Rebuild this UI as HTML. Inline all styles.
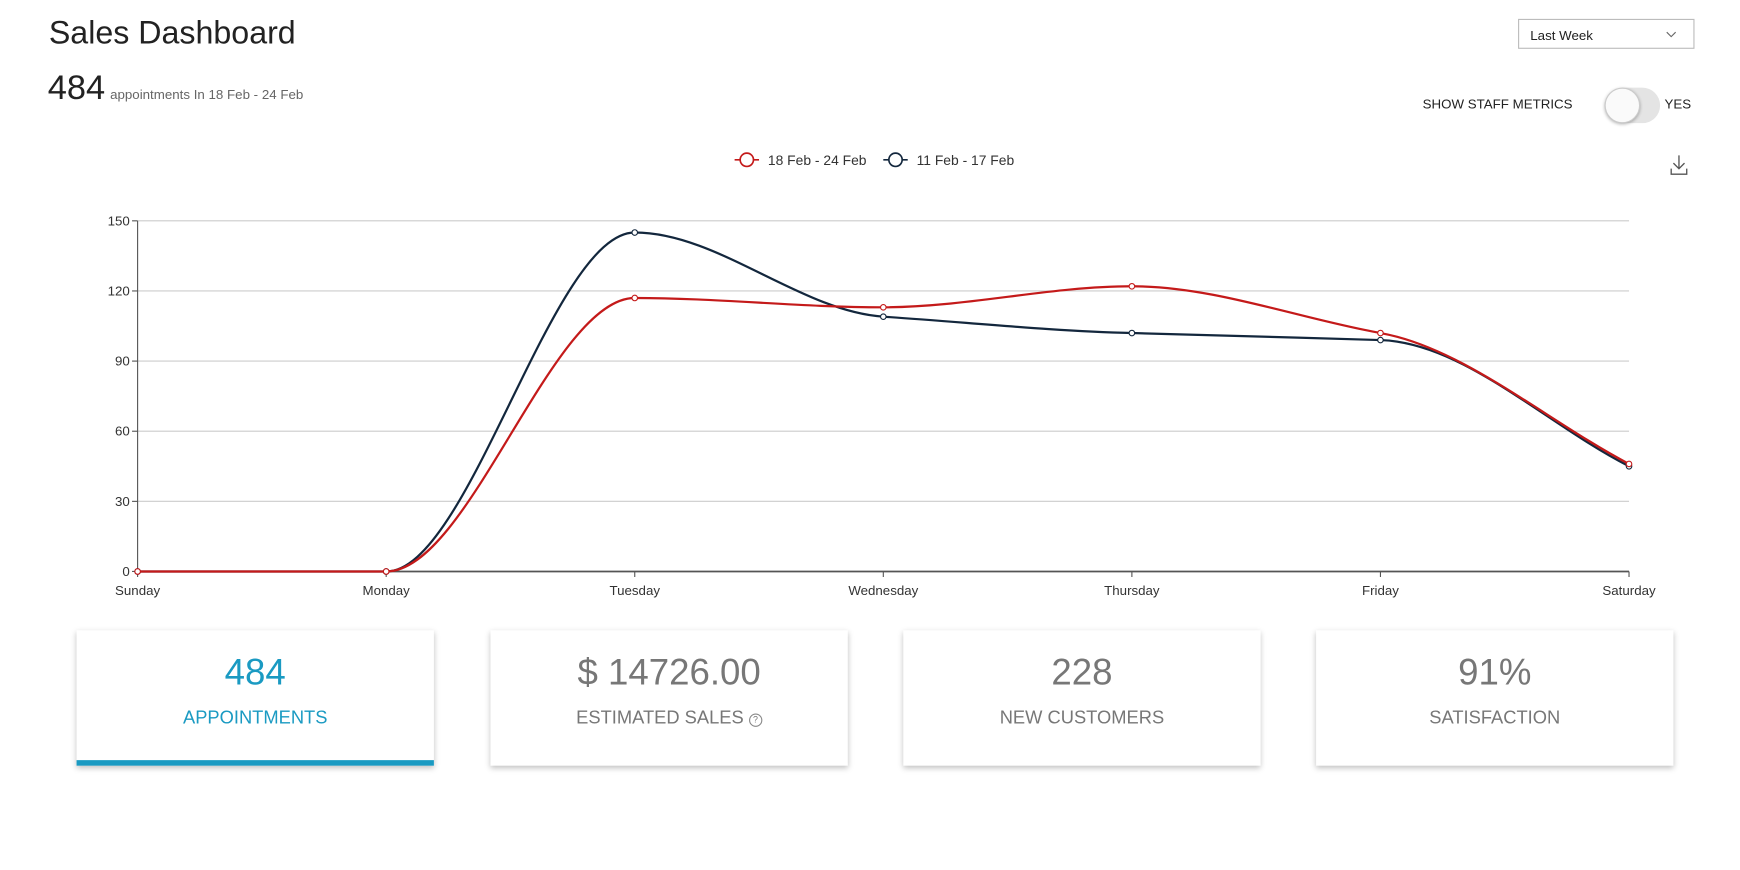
<!DOCTYPE html>
<html><head><meta charset="utf-8"><style>
html,body{margin:0;padding:0;background:#fff;overflow:hidden}
#wrap{position:absolute;left:0;top:0;width:1568px;height:784px;transform:scale(1.10969);transform-origin:0 0;font-family:"Liberation Sans",sans-serif}
.abs{position:absolute}
.card{position:absolute;top:568px;width:322px;height:122px;background:#fff;box-shadow:0 2px 5px rgba(0,0,0,0.25);text-align:center}
.card .num{position:absolute;left:0;right:0;top:19px;font-size:33px;color:#777}
.card .lbl{position:absolute;left:0;right:0;top:70px;font-size:16.5px;color:#777}
</style></head><body>
<div id="wrap">
<div class="abs" style="left:44px;top:14px;font-size:29px;color:#222">Sales Dashboard</div>
<div class="abs" style="left:43px;top:61px;color:#222"><span style="font-size:31px">484</span> <span style="font-size:12px;color:#666">appointments In 18 Feb - 24 Feb</span></div>
<div class="abs" style="left:1368px;top:17px;width:159px;height:27px;border:1px solid #bbb;box-sizing:border-box;font-size:12px;color:#222">
<span style="position:absolute;left:10px;top:7px">Last Week</span>
<svg style="position:absolute;left:132px;top:10px" width="10" height="7"><polyline points="1,1 5,5 9,1" fill="none" stroke="#666" stroke-width="1"/></svg></div>
<div class="abs" style="left:1282px;top:87px;font-size:12px;color:#222">SHOW STAFF METRICS</div>
<div class="abs" style="left:1446px;top:79px;width:50px;height:32px;border-radius:16px;background:#e4e4e4">
<div style="position:absolute;left:0;top:0;width:30px;height:30px;border-radius:50%;background:#fafafa;border:1px solid #ccc;box-shadow:0 1px 3px rgba(0,0,0,.3)"></div></div>
<div class="abs" style="left:1500px;top:87px;font-size:12px;color:#222">YES</div>
<svg class="abs" style="left:1504px;top:139px" width="18" height="20"><path d="M9 1V13M4 8L9 13L14 8M2 13V18H16V13" fill="none" stroke="#555" stroke-width="1.2"/></svg>
<svg id="chart" class="abs" style="left:0;top:0" width="1568" height="560"></svg>
<div class="card" style="left:69px"><div class="num" style="color:#1a9ac2">484</div><div class="lbl" style="color:#1a9ac2">APPOINTMENTS</div><div style="position:absolute;left:0;right:0;bottom:0;height:5px;background:#1a9ac2"></div></div>
<div class="card" style="left:442px"><div class="num">$ 14726.00</div><div class="lbl">ESTIMATED SALES <span style="display:inline-block;width:10px;height:10px;border:1px solid #888;border-radius:50%;font-size:8px;line-height:10px;vertical-align:1px">?</span></div></div>
<div class="card" style="left:814px"><div class="num">228</div><div class="lbl">NEW CUSTOMERS</div></div>
<div class="card" style="left:1186px"><div class="num">91%</div><div class="lbl">SATISFACTION</div></div>
</div>
<script>
const categories=["Sunday","Monday","Tuesday","Wednesday","Thursday","Friday","Saturday"];
const seriesCurrent=[0,0,117,113,122,102,46];
const seriesPrevious=[0,0,145,109,102,99,45];
const yTicks=[0,30,60,90,120,150];
const seriesNames=["18 Feb - 24 Feb","11 Feb - 17 Feb"];
const NS="http://www.w3.org/2000/svg";
const svg=document.getElementById('chart');
const X0=124,X1=1468,Y0=515,Y1=199,YMAX=150;
const xs=i=>X0+(X1-X0)*i/(categories.length-1);
const ys=v=>Y0-(Y0-Y1)*v/YMAX;
function mk(t,a,p){const e=document.createElementNS(NS,t);for(const k in a)e.setAttribute(k,a[k]);(p||svg).appendChild(e);return e;}
yTicks.forEach(v=>{
 const g=mk('line',{x1:X0,x2:X1,y1:ys(v),y2:ys(v),stroke:v===0?'#555':'#ccc','stroke-width':v===0?1.5:1});
 
 
 mk('line',{x1:X0-5,x2:X0,y1:ys(v),y2:ys(v),stroke:'#555'});
 const t=mk('text',{x:X0-7,y:ys(v)+4,'text-anchor':'end','font-size':12,fill:'#333','font-family':'Liberation Sans,sans-serif'});
 t.textContent=v;
 
 
});
mk('line',{x1:X0,x2:X0,y1:Y1,y2:Y0,stroke:'#555'});
categories.forEach((c,i)=>{
 mk('line',{x1:xs(i),x2:xs(i),y1:Y0,y2:Y0+5,stroke:'#555'});
 const t=mk('text',{x:xs(i),y:Y0+21,'text-anchor':'middle','font-size':12,fill:'#333','font-family':'Liberation Sans,sans-serif'});
 t.textContent=c;
 
 
});
function pathOf(vals){
 const p=vals.map((v,i)=>[xs(i),ys(v)]);
 const n=p.length,h=[],s=[],m=[];
 for(let i=0;i<n-1;i++){h[i]=p[i+1][0]-p[i][0];s[i]=(p[i+1][1]-p[i][1])/h[i];}
 m[0]=s[0];m[n-1]=s[n-2];
 for(let i=1;i<n-1;i++){
  if(s[i-1]*s[i]<=0)m[i]=0;
  else{const sg=Math.sign(s[i-1]);m[i]=sg*Math.min(Math.abs(s[i-1]),Math.abs(s[i]),0.5*Math.abs((s[i-1]*h[i]+s[i]*h[i-1])/(h[i-1]+h[i])));}
 }
 let d='M'+p[0][0]+','+p[0][1];
 for(let i=0;i<n-1;i++){
  const dx=h[i]/3;
  d+=' C'+(p[i][0]+dx)+','+(p[i][1]+m[i]*dx)+' '+(p[i+1][0]-dx)+','+(p[i+1][1]-m[i+1]*dx)+' '+p[i+1][0]+','+p[i+1][1];
 }
 return d;
}
function series(vals,color,name){
 const l=mk('path',{d:pathOf(vals),fill:'none',stroke:color,'stroke-width':2});
 
 
 vals.forEach((v,i)=>{
  const c=mk('circle',{cx:xs(i),cy:ys(v),r:2.5,fill:'#fff',stroke:color,'stroke-width':1});
  
  
 });
}
series(seriesPrevious,'#13273d','previous-week');
series(seriesCurrent,'#c41a1a','current-week');
const lg=[[662,'#c41a1a'],[796,'#13273d']];
lg.forEach((l,i)=>{
 const g=mk('g',{});
 
 
 mk('line',{x1:l[0],x2:l[0]+22,y1:144,y2:144,stroke:l[1],'stroke-width':1.5},g);
 mk('circle',{cx:l[0]+11,cy:144,r:6,fill:'#fff',stroke:l[1],'stroke-width':1.5},g);
 const t=mk('text',{x:l[0]+30,y:148.5,'font-size':12.5,fill:'#333','font-family':'Liberation Sans,sans-serif'},g);
 t.textContent=seriesNames[i];
});
</script>
</body></html>
